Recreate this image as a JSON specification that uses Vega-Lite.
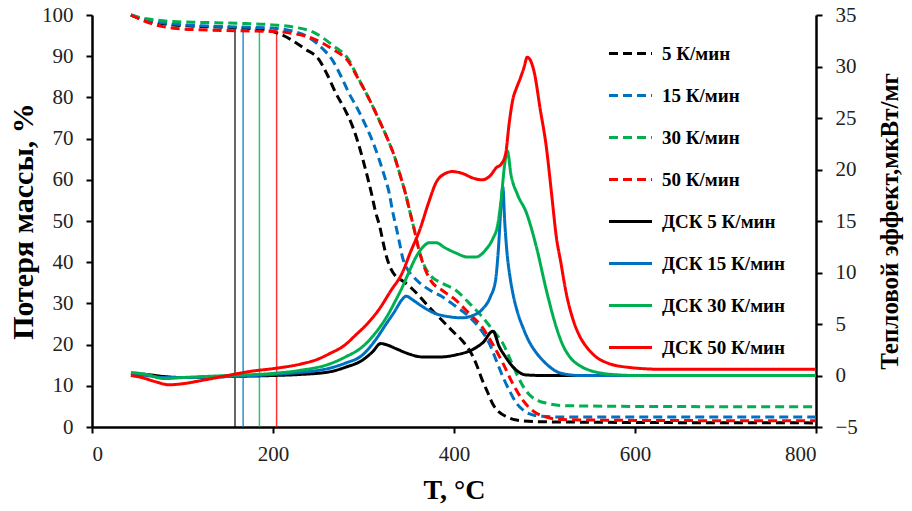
{
  "$schema": "https://vega.github.io/schema/vega-lite/v6.json",
  "width": 724,
  "height": 412,
  "autosize": {"type": "none"},
  "padding": {"left": 92, "top": 15, "right": 96, "bottom": 84},
  "datasets": {
    "tg": [
      {"series": "5 К/мин",
       "T": [43,55,70,90,120,160,190,205,220,235,251,260,269.5,280,288,294,299.5,304,308.8,313,318,322,325.5,330,336,343,354,373,384,402,409,420,426,431,437,443,450,458,469,490,600,800],
       "v": [100,99,98.2,97.6,97.2,96.9,96.4,95.6,94,91.8,89.1,85.5,81,76.8,72.9,69,64.8,61,56.7,52.5,48.6,44.5,41.3,38.5,36.5,35.5,33.5,29,26.5,22.5,21,17.5,14.5,11.5,8.5,5.5,3.6,2.5,1.7,1.3,1.1,1.0]},
      {"series": "15 К/мин",
       "T": [43,55,70,90,120,160,200,220,240,255,265.5,275,284,294,303,311,317.5,323,328.5,332,336,340,343,348,355,362,375,387,400,417,430,439,447,454,462,469,477,486,497,520,800],
       "v": [100,99.1,98.4,97.8,97.4,97.1,96.8,96.2,94.5,91.8,89.1,85.2,81,77,72.9,68.8,64.8,61,56.7,52.5,48.6,44.5,41.3,38.5,36.5,35,33,31.6,29.6,26.7,23.5,20.3,16,12.2,8.5,5.8,4,3,2.6,2.4,2.4]},
      {"series": "30 К/мин",
       "T": [43,55,70,90,120,160,200,225,245,265,284,293,303,312,321,328,334,340,346,351,356,361,366,373,388,402,417,431,443,454,462,470,478,486,494,502,520,600,800],
       "v": [100,99.3,98.8,98.4,98.2,98,97.6,97,95.8,92.8,89,85.2,81,77,72.7,69.2,65.8,61.5,57,52.5,48,43.2,39.8,37,34.8,33.2,30,26.8,23.5,20.3,16.5,12.5,9.3,7.3,6.3,5.8,5.2,5,4.9]},
      {"series": "50 К/мин",
       "T": [43,55,70,90,120,160,200,225,245,265,284,293,303,312,321,328,334,340,346,351,356,361,366,373,388,402,417,431,443,454,465,476,488,502,520,600,800],
       "v": [100,98.8,97.6,96.8,96.4,96.2,96,95.4,94.2,91.8,88.5,85,81,77,72.7,69.2,65.8,61.5,57,52.5,48,43.2,39.5,36,33,30.8,27.5,24.3,20,15.5,10.5,6.5,3.8,2.4,1.8,1.6,1.5]}
    ],
    "dsc": [
      {"series": "ДСК 5 К/мин",
       "T": [43,60,80,100,150,200,230,262,280,299,310,319,325,336,350,365,385,402,420,432,443,450,457,465,480,500,600,800],
       "v": [0.2,0.1,-0.1,-0.2,-0.1,0,0.1,0.35,0.8,1.5,2.3,3.1,3.0,2.6,2.1,1.8,1.8,2.0,2.5,3.2,4.3,2.8,1.8,0.85,0.05,0,0,0]},
      {"series": "ДСК 15 К/мин",
       "T": [43,60,80,100,150,200,230,262,280,299,312,325,335,342,347,355,365,380,395,409,420,431,440,446,449,452,454,456,458,462,465,470,476,483,491,500,513,525,539,600,800],
       "v": [0.1,0,-0.2,-0.2,-0.1,0.1,0.3,0.7,1.2,2.0,3.3,5.0,6.3,7.3,7.7,7.3,6.7,6.0,5.7,5.6,5.8,6.4,7.6,9.3,12.2,16.5,18.3,15,12.5,9.5,8.0,6.2,4.7,3.3,2.2,1.3,0.4,0.1,0,0,0]},
      {"series": "ДСК 30 К/мин",
       "T": [43,60,80,100,150,200,230,262,280,299,312,325,335,343,350,358,366,373,380,390,402,415,424,435,443,448,452,456,459,463,470,480,491,502,513,520,528,540,550,565,583,600,800],
       "v": [0.3,0.1,-0.3,-0.2,0,0.2,0.5,1.1,1.8,2.8,4.0,5.6,7.2,8.6,10.0,11.5,12.5,12.9,12.9,12.4,11.9,11.5,11.5,12.2,13.3,14.5,17.0,20.5,21.8,19.5,17.6,15.8,12.5,8.3,4.7,3.0,1.8,0.9,0.5,0.2,0.05,0,0]},
      {"series": "ДСК 50 К/мин",
       "T": [43,55,70,85,100,120,150,175,203,230,250,262,280,291,305,317,330,343,352,362,372,380,390,398,410,420,431,440,447,452,457,461,465,469,473,477,481,485,489,495,502,508,513,518,524,532,539,548,557,570,583,631,700,800],
       "v": [0,-0.2,-0.6,-0.9,-0.8,-0.5,0,0.4,0.7,1.1,1.6,2.1,3.0,3.9,5.1,6.4,8.2,10.0,12.0,14.1,16.8,18.7,19.6,19.8,19.6,19.2,19.0,19.4,20.2,20.5,21.5,24.5,26.8,27.9,28.8,29.8,30.9,30.5,29.3,26.0,22.2,17.5,13.5,11.0,8.0,5.3,3.8,2.6,1.8,1.2,0.9,0.6,0.6,0.6]}
    ],
    "onset": [
      {"series": "5 К/мин", "T": 158, "v": 96.8},
      {"series": "15 К/мин", "T": 167, "v": 97.0},
      {"series": "30 К/мин", "T": 185, "v": 97.2},
      {"series": "50 К/мин", "T": 204, "v": 96.0}
    ]
  },
  "config": {
    "view": {"stroke": null},
    "font": "Liberation Serif",
    "axis": {
      "grid": false,
      "domainColor": "#000",
      "domainWidth": 2.5,
      "tickColor": "#000",
      "tickWidth": 2,
      "tickSize": 6,
      "labelFont": "Liberation Serif",
      "labelFontSize": 21,
      "labelColor": "#222",
      "titleFont": "Liberation Serif",
      "titleFontWeight": "bold",
      "titleColor": "#000"
    },
    "legend": {
      "labelFont": "Liberation Serif",
      "labelFontSize": 19,
      "labelFontWeight": "bold",
      "labelColor": "#000",
      "labelLimit": 300,
      "symbolType": "stroke",
      "symbolSize": 1850,
      "symbolStrokeWidth": 3,
      "labelOffset": 8,
      "rowPadding": 8,
      "padding": 0
    }
  },
  "encoding": {
    "x": {
      "field": "T",
      "type": "quantitative",
      "scale": {"domain": [0, 800]},
      "axis": {"values": [0, 200, 400, 600, 800], "title": "T, °C", "titleFontSize": 28, "labelPadding": 10, "titlePadding": 12}
    }
  },
  "layer": [
    {
      "encoding": {
        "y": {
          "field": "v",
          "type": "quantitative",
          "scale": {"domain": [0, 100]},
          "axis": {"values": [0,10,20,30,40,50,60,70,80,90,100], "title": "Потеря массы, %", "titleFontSize": 30, "labelPadding": 13, "titlePadding": 3}
        }
      },
      "layer": [
        {
          "data": {"name": "onset"},
          "mark": {"type": "rule", "strokeWidth": 1.5, "opacity": 0.8},
          "encoding": {
            "y2": {"datum": 0},
            "stroke": {
              "field": "series",
              "type": "nominal",
              "scale": {"domain": ["5 К/мин", "15 К/мин", "30 К/мин", "50 К/мин"], "range": ["#000000", "#0070C0", "#00B050", "#FF0000"]},
              "legend": null
            }
          }
        },
        {
          "data": {"name": "tg"},
          "transform": [{"flatten": ["T", "v"]}],
          "mark": {"type": "line", "strokeWidth": 3, "interpolate": "monotone"},
          "encoding": {
            "color": {
              "field": "series",
              "type": "nominal",
              "scale": {
                "domain": ["5 К/мин", "15 К/мин", "30 К/мин", "50 К/мин", "ДСК 5 К/мин", "ДСК 15 К/мин", "ДСК 30 К/мин", "ДСК 50 К/мин"],
                "range": ["#000000", "#0070C0", "#00B050", "#FF0000", "#000000", "#0070C0", "#00B050", "#FF0000"]
              },
              "legend": {"orient": "none", "legendX": 515, "legendY": 15, "title": null}
            },
            "strokeDash": {
              "field": "series",
              "type": "nominal",
              "scale": {
                "domain": ["5 К/мин", "15 К/мин", "30 К/мин", "50 К/мин", "ДСК 5 К/мин", "ДСК 15 К/мин", "ДСК 30 К/мин", "ДСК 50 К/мин"],
                "range": [[9, 5], [9, 5], [9, 5], [9, 5], [1, 0], [1, 0], [1, 0], [1, 0]]
              },
              "legend": {"orient": "none", "legendX": 515, "legendY": 15, "title": null}
            }
          }
        }
      ]
    },
    {
      "data": {"name": "dsc"},
      "transform": [{"flatten": ["T", "v"]}],
      "mark": {"type": "line", "strokeWidth": 3, "interpolate": "monotone"},
      "encoding": {
        "y": {
          "field": "v",
          "type": "quantitative",
          "scale": {"domain": [-5, 35]},
          "axis": {"orient": "right", "values": [-5,0,5,10,15,20,25,30,35], "title": "Тепловой эффект,мкВт/мг", "titleFontSize": 25, "titleAngle": 270, "labelPadding": 13, "titlePadding": 45}
        },
        "color": {
          "field": "series",
          "type": "nominal",
          "scale": {
            "domain": ["5 К/мин", "15 К/мин", "30 К/мин", "50 К/мин", "ДСК 5 К/мин", "ДСК 15 К/мин", "ДСК 30 К/мин", "ДСК 50 К/мин"],
            "range": ["#000000", "#0070C0", "#00B050", "#FF0000", "#000000", "#0070C0", "#00B050", "#FF0000"]
          },
          "legend": {"orient": "none", "legendX": 515, "legendY": 15, "title": null}
        },
        "strokeDash": {
          "field": "series",
          "type": "nominal",
          "scale": {
            "domain": ["5 К/мин", "15 К/мин", "30 К/мин", "50 К/мин", "ДСК 5 К/мин", "ДСК 15 К/мин", "ДСК 30 К/мин", "ДСК 50 К/мин"],
            "range": [[9, 5], [9, 5], [9, 5], [9, 5], [1, 0], [1, 0], [1, 0], [1, 0]]
          },
          "legend": {"orient": "none", "legendX": 515, "legendY": 15, "title": null}
        }
      }
    }
  ],
  "resolve": {"scale": {"y": "independent"}}
}
